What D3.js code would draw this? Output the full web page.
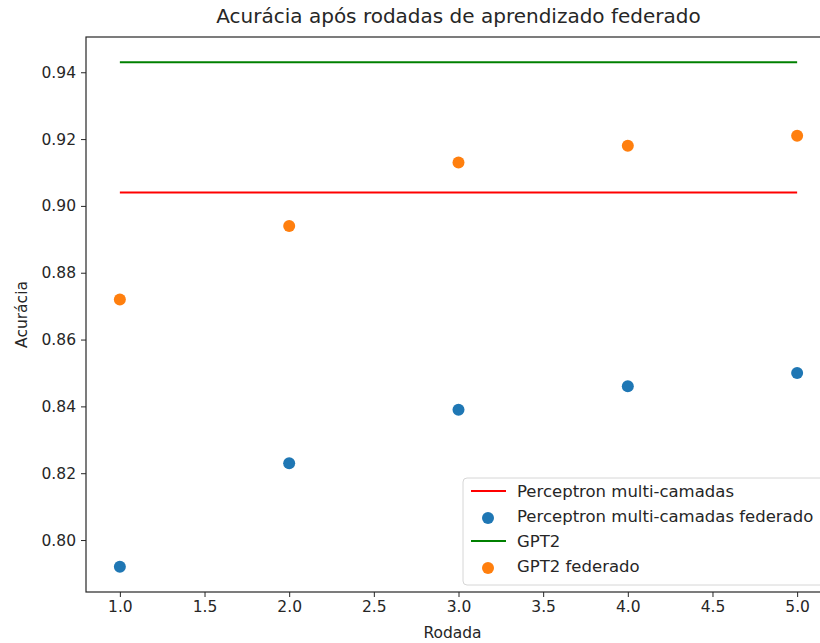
<!DOCTYPE html>
<html>
<head>
<meta charset="utf-8">
<script src="https://cdn.jsdelivr.net/npm/d3@7"></script>
<style>
body { margin: 0; background: #fff; }
text { font-family: "DejaVu Sans", sans-serif; fill: #262626; }
</style>
</head>
<body>
<div class="content"></div>
<script>
// dados
var rodadas = [1, 2, 3, 4, 5];
var mlpFederado = [0.792, 0.823, 0.839, 0.846, 0.850];
var gptFederado = [0.872, 0.894, 0.913, 0.918, 0.921];
var mlpCentral = 0.904;
var gptCentral = 0.943;
var xTicks = [1.0, 1.5, 2.0, 2.5, 3.0, 3.5, 4.0, 4.5, 5.0];
var yTicks = [0.80, 0.82, 0.84, 0.86, 0.88, 0.90, 0.92, 0.94];
var legendLabels = ["Perceptron multi-camadas", "Perceptron multi-camadas federado", "GPT2", "GPT2 federado"];

var margin = {top: 37, left: 86},
    width = 745,
    height = 555;

var svg = d3.select('.content').append("svg").attr("width", 820).attr("height", 643);
var ctrl = svg.append("g").attr("transform", "translate(" + margin.left + "," + margin.top + ")");

// margens de 5% como no matplotlib
var xmin = d3.min(rodadas), xmax = d3.max(rodadas);
var allY = mlpFederado.concat(gptFederado, [mlpCentral, gptCentral]);
var ymin = d3.min(allY), ymax = d3.max(allY);
var dx = (xmax - xmin) * 0.05, dy = (ymax - ymin) * 0.05;

var x = d3.scaleLinear().domain([xmin - dx, xmax + dx]).range([0, width]);
var y = d3.scaleLinear().domain([ymin - dy, ymax + dy]).range([height, 0]);

// linhas horizontais
var hl = [[mlpCentral, "#ff0000"], [gptCentral, "#008000"]];
hl.forEach(function(h) {
	ctrl.append("line").attr("x1", x(xmin)).attr("x2", x(xmax))
		.attr("y1", y(h[0])).attr("y2", y(h[0]))
		.attr("stroke", h[1]).attr("stroke-width", 2);
});

// pontos
ctrl.selectAll(".mlp").data(rodadas).enter().append("circle")
	.attr("cx", function(d){ return x(d); })
	.attr("cy", function(d, i){ return y(mlpFederado[i]); })
	.attr("r", 6).attr("fill", "#1f77b4");
ctrl.selectAll(".gpt").data(rodadas).enter().append("circle")
	.attr("cx", function(d){ return x(d); })
	.attr("cy", function(d, i){ return y(gptFederado[i]); })
	.attr("r", 6).attr("fill", "#ff7f0e");

// eixos
var xa = ctrl.append("g").attr("transform", "translate(0," + height + ")")
	.call(d3.axisBottom(x).tickValues(xTicks).tickFormat(d3.format(".1f")).tickSizeOuter(0).tickSize(5).tickPadding(4));
var ya = ctrl.append("g")
	.call(d3.axisLeft(y).tickValues(yTicks).tickFormat(d3.format(".2f")).tickSizeOuter(0).tickSize(5).tickPadding(5));
[xa, ya].forEach(function(a) {
	a.selectAll("text").style("font-size", "15.5px").attr("fill", "#262626");
	a.selectAll("line").attr("stroke", "#262626");
	a.select(".domain").remove();
});
ctrl.append("rect").attr("width", width).attr("height", height)
	.attr("fill", "none").attr("stroke", "#262626").attr("stroke-width", 1.2);

// legenda
var leg = ctrl.append("g").attr("transform", "translate(" + (463 - margin.left) + "," + (478 - margin.top) + ")");
leg.append("rect").attr("width", 400).attr("height", 107).attr("rx", 4)
	.attr("fill", "#fff").attr("fill-opacity", 0.8).attr("stroke", "#d6d6d6");
var legColors = ["#ff0000", "#1f77b4", "#008000", "#ff7f0e"];
legendLabels.forEach(function(lbl, i) {
	var cy = 13 + i * 25;
	if (i % 2 == 0) {
		leg.append("line").attr("x1", 8).attr("x2", 43).attr("y1", cy).attr("y2", cy)
			.attr("stroke", legColors[i]).attr("stroke-width", 2);
	} else {
		leg.append("circle").attr("cx", 25).attr("cy", cy + 2).attr("r", 6).attr("fill", legColors[i]);
	}
	leg.append("text").attr("x", 54).attr("y", cy + 6).style("font-size", "16.5px").text(lbl);
});

// titulos
svg.append("text").attr("x", margin.left + width / 2).attr("y", 23).attr("text-anchor", "middle")
	.style("font-size", "20px").text("Acurácia após rodadas de aprendizado federado");
svg.append("text").attr("x", margin.left + width / 2 - 6).attr("y", 638).attr("text-anchor", "middle")
	.style("font-size", "15.5px").text("Rodada");
svg.append("text").attr("transform", "translate(27," + (margin.top + height / 2) + ") rotate(-90)")
	.attr("text-anchor", "middle").style("font-size", "15.5px").text("Acurácia");
</script>
</body>
</html>
